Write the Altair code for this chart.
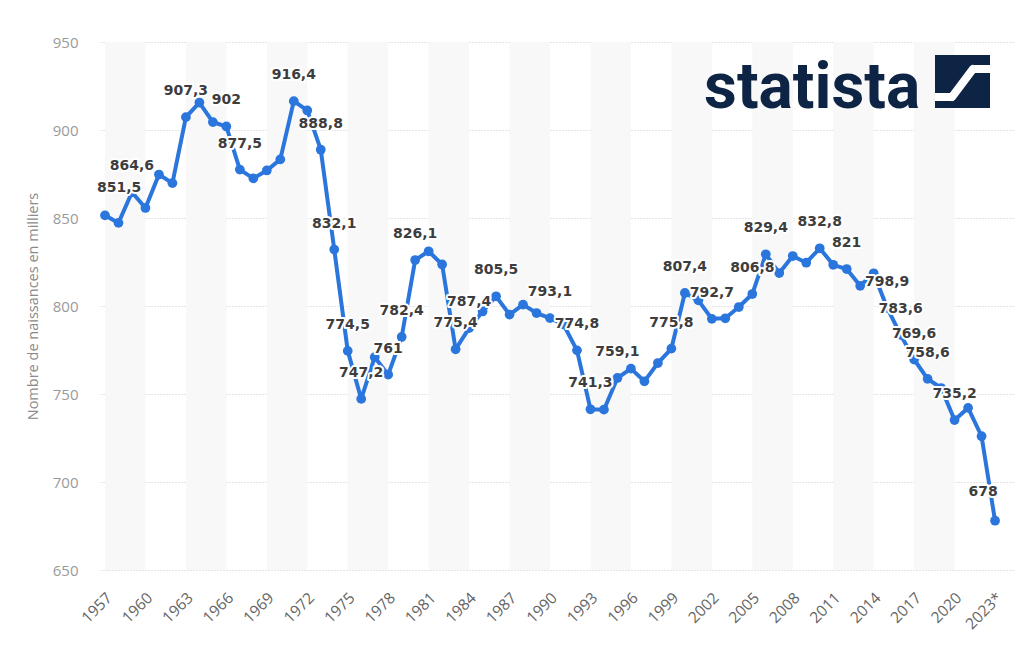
import altair as alt
import pandas as pd

# ---- data -------------------------------------------------------------
years = list(range(1957, 2024))
births = [
    851.5, 847.2, 864.6, 855.7, 874.7, 869.8, 907.3, 915.6, 904.5, 902.0,
    877.5, 872.5, 877.0, 883.3, 916.4, 911.1, 888.8, 832.1, 774.5, 747.2,
    770.9, 761.0, 782.4, 826.1, 831.1, 823.6, 775.4, 787.4, 796.9, 805.5,
    795.1, 800.8, 796.0, 793.1, 789.5, 774.8, 741.3, 741.1, 759.1, 764.4,
    757.2, 767.6, 775.8, 807.4, 803.2, 792.7, 793.0, 799.4, 806.8, 829.4,
    818.7, 828.4, 824.6, 832.8, 823.4, 821.0, 811.5, 818.6, 798.9, 783.6,
    769.6, 758.6, 753.4, 735.2, 742.1, 726.0, 678.0,
]
labeled_years = [1957, 1959, 1963, 1966, 1967, 1971, 1973, 1974, 1975, 1976,
                 1978, 1979, 1980, 1983, 1984, 1986, 1990, 1992, 1993, 1995,
                 1999, 2000, 2002, 2005, 2006, 2010, 2012, 2015, 2016, 2017,
                 2018, 2020, 2023]
tick_years = list(range(1957, 2024, 3))
band_starts = list(range(1957, 2018, 6))
y_ticks = [650, 700, 750, 800, 850, 900, 950]


def fmt(v):
    return f"{v:g}".replace(".", ",")


df = pd.DataFrame({"year": years, "value": births})
df["label"] = [fmt(v) if y in labeled_years else "" for y, v in zip(years, births)]
bands = pd.DataFrame({"year": band_starts, "end": [s + 3 for s in band_starts]})

W, H = 915, 528
BLUE = "#2a76dd"
X_DOMAIN = [1956.63, 2024.48]

xscale = alt.Scale(domain=X_DOMAIN, nice=False, zero=False)
yscale = alt.Scale(domain=[650, 950], nice=False, zero=False)

x_axis = alt.Axis(
    values=tick_years, format="d",
    labelExpr="datum.value == 2023 ? '2023*' : datum.label",
    labelAngle=-45, labelAlign="right", labelBaseline="middle",
    labelPadding=25, labelOffset=4, labelFont="Open Sans", labelFontSize=15.5,
    labelColor="#666666", domain=False, ticks=False, grid=False, title=None,
    labelOverlap=False,
)
y_axis = alt.Axis(
    values=y_ticks, labelFont="Open Sans", labelFontSize=15,
    labelColor="#9a9a9a", labelPadding=22, domain=False, ticks=False,
    grid=True, gridColor="#c8c8c8", gridDash=[1, 2], gridWidth=1,
    title="Nombre de naissances en milliers", titleFont="Open Sans",
    titleFontSize=14.5, titleFontWeight="normal", titleColor="#8a8a8a",
    titleAngle=-90, titleX=-67, titleY=H / 2, titleAlign="center",
    titleBaseline="middle",
)

X = alt.X("year:Q", scale=xscale, axis=x_axis)
Y = alt.Y("value:Q", scale=yscale, axis=y_axis)

band_layer = alt.Chart(bands).mark_rect(color="#f8f8f8").encode(
    x=X, x2="end:Q", y=alt.value(0), y2=alt.value(H),
)

base = alt.Chart(df).encode(x=X, y=Y)
line = base.mark_line(color=BLUE, strokeWidth=4, strokeJoin="round")
points = base.mark_circle(color=BLUE, size=95, opacity=1)

lab = df[df["label"] != ""]
mid = lab[(lab["year"] != 1957) & (lab["year"] != 2023)]
first = lab[lab["year"] == 1957]
last = lab[lab["year"] == 2023]

text_style = dict(font="DejaVu Sans", fontSize=14, fontWeight="bold",
                  baseline="middle")


def label_layers(d, **kw):
    enc = dict(x=X, y=Y, text="label:N")
    halo = alt.Chart(d).mark_text(color="white", stroke="white",
                                  strokeWidth=4, strokeJoin="round",
                                  **text_style, **kw).encode(**enc)
    txt = alt.Chart(d).mark_text(color="#3d3d3d", **text_style,
                                 **kw).encode(**enc)
    return [halo, txt]


labels = (label_layers(mid, dy=-26, align="center")
          + label_layers(first, dy=-27, dx=-8, align="left")
          + label_layers(last, dy=-29, dx=-12, align="center"))

# ---- statista logo ----------------------------------------------------
NAVY = "#0e2444"
one = pd.DataFrame({"k": [0]})
logo_text = alt.Chart(one).mark_text(
    text="statista", font="Roboto", fontWeight="bold",
    fontSize=64, color=NAVY, align="left", baseline="alphabetic",
).encode(x=alt.value(604), y=alt.value(66))
logo_box = alt.Chart(one).mark_rect(color=NAVY).encode(
    x=alt.value(835), x2=alt.value(890), y=alt.value(13), y2=alt.value(66))
sw1 = alt.Chart(one).mark_rule(color="white", strokeWidth=8,
                               strokeCap="butt").encode(
    x=alt.value(835), x2=alt.value(852), y=alt.value(55), y2=alt.value(55))
sw2 = alt.Chart(one).mark_rule(color="white", strokeWidth=8,
                               strokeCap="round").encode(
    x=alt.value(852), x2=alt.value(873), y=alt.value(55), y2=alt.value(27))
sw3 = alt.Chart(one).mark_rule(color="white", strokeWidth=8,
                               strokeCap="butt").encode(
    x=alt.value(873), x2=alt.value(890), y=alt.value(27), y2=alt.value(27))

chart = alt.layer(
    band_layer, line, points, *labels, logo_text, logo_box, sw1, sw2, sw3
).properties(
    width=W, height=H,
    autosize=alt.AutoSizeParams(type="none"),
    padding={"left": 100, "top": 42, "right": 15, "bottom": 78},
    background="white",
).configure_view(stroke=None)

chart.save("out.html", embed_options={"renderer": "svg", "actions": False})
